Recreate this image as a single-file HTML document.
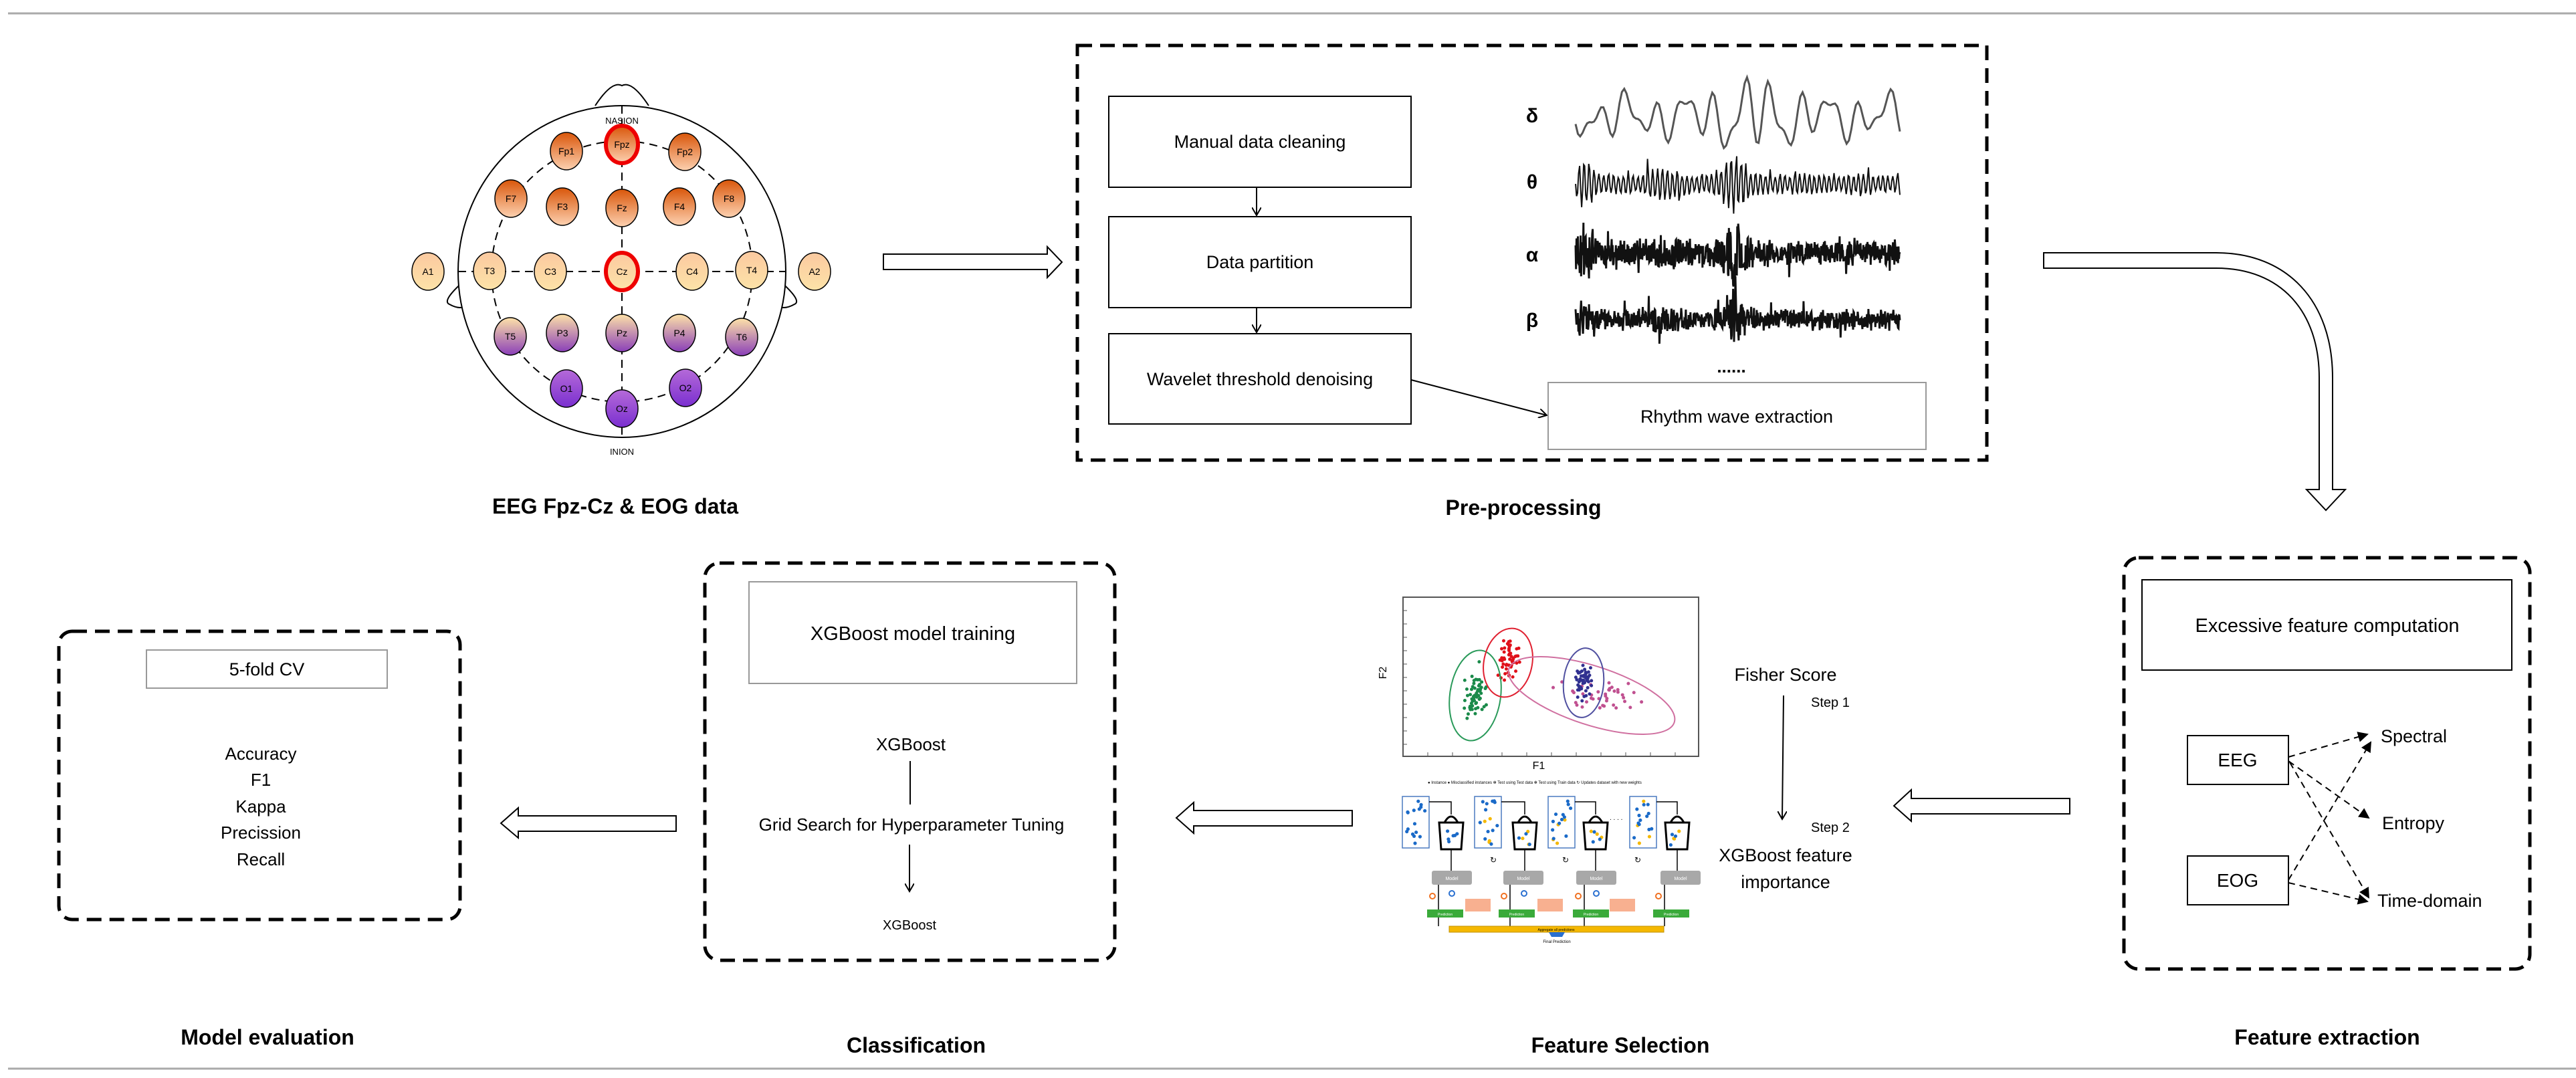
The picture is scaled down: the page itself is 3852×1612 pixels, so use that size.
<!DOCTYPE html>
<html><head><meta charset="utf-8"><style>
html,body{margin:0;padding:0;background:#fff;}
svg{display:block;font-family:"Liberation Sans",sans-serif;}
</style></head><body>
<svg id="s" width="3852" height="1612" viewBox="0 0 3852 1612" xmlns="http://www.w3.org/2000/svg">
<defs>
<linearGradient id="gF" x1="0" y1="0" x2="0" y2="1"><stop offset="0" stop-color="#d9560a"/><stop offset="1" stop-color="#fdd1b0"/></linearGradient>
<linearGradient id="gT" x1="0" y1="0" x2="0" y2="1"><stop offset="0" stop-color="#fbc9a0"/><stop offset="1" stop-color="#fde3a8"/></linearGradient>
<linearGradient id="gP" x1="0" y1="0" x2="0" y2="1"><stop offset="0" stop-color="#fde1a8"/><stop offset="1" stop-color="#8a3fb8"/></linearGradient>
<linearGradient id="gO" x1="0" y1="0" x2="0" y2="1"><stop offset="0" stop-color="#b56ad8"/><stop offset="1" stop-color="#7a2fd0"/></linearGradient>
<marker id="oa" markerWidth="14" markerHeight="14" refX="12" refY="7" orient="auto" markerUnits="userSpaceOnUse"><path d="M0,0 L12,7 L0,14" fill="none" stroke="#000" stroke-width="2"/></marker>
<marker id="fa" markerWidth="16" markerHeight="16" refX="14" refY="8" orient="auto" markerUnits="userSpaceOnUse"><path d="M0,0 L16,8 L0,16 Z" fill="#000"/></marker>
</defs>
<line x1="12" y1="20" x2="3852" y2="20" stroke="#aaa" stroke-width="3"/>
<line x1="12" y1="1598" x2="3852" y2="1598" stroke="#aaa" stroke-width="3"/>

<g id="head">
<path d="M890,158 Q915,120 930,128 Q945,120 970,158" fill="#fff" stroke="#000" stroke-width="2"/>
<path d="M694,420 Q660,450 672,455 Q690,465 700,455" fill="none" stroke="#000" stroke-width="2"/>
<path d="M1166,420 Q1200,450 1188,455 Q1170,465 1160,455" fill="none" stroke="#000" stroke-width="2"/>
<ellipse cx="930" cy="406" rx="245" ry="248" fill="#fff" stroke="#000" stroke-width="2"/>
<circle cx="930" cy="406" r="195" fill="none" stroke="#000" stroke-width="2" stroke-dasharray="12 8"/>
<line x1="930" y1="158" x2="930" y2="653" stroke="#000" stroke-width="2" stroke-dasharray="12 8"/>
<line x1="685" y1="406" x2="1175" y2="406" stroke="#000" stroke-width="2" stroke-dasharray="12 8"/>
<text x="930" y="185" font-size="13" text-anchor="middle">NASION</text>
<text x="930" y="680" font-size="13" text-anchor="middle">INION</text>
<g id="el"></g>
</g>
<text x="920" y="768" font-size="32" font-weight="bold" text-anchor="middle">EEG Fpz-Cz &amp; EOG data</text>

<path d="M1321,380 H1566 V369 L1588,392 L1566,415 V403 H1321 Z" fill="#fff" stroke="#000" stroke-width="2"/>

<rect x="1611" y="68" width="1360" height="620" fill="none" stroke="#000" stroke-width="5" stroke-dasharray="22 12"/>
<rect x="1658" y="144" width="452" height="136" fill="#fff" stroke="#000" stroke-width="2"/>
<rect x="1658" y="324" width="452" height="136" fill="#fff" stroke="#000" stroke-width="2"/>
<rect x="1658" y="499" width="452" height="135" fill="#fff" stroke="#000" stroke-width="2"/>
<g font-size="27" text-anchor="middle">
<text x="1884" y="221">Manual data cleaning</text>
<text x="1884" y="401">Data partition</text>
<text x="1884" y="576">Wavelet threshold denoising</text>
</g>
<line x1="1879" y1="280" x2="1879" y2="322" stroke="#000" stroke-width="2" marker-end="url(#oa)"/>
<line x1="1879" y1="460" x2="1879" y2="497" stroke="#000" stroke-width="2" marker-end="url(#oa)"/>
<line x1="2110" y1="568" x2="2313" y2="621" stroke="#000" stroke-width="2" marker-end="url(#oa)"/>
<rect x="2315" y="572" width="565" height="100" fill="#fff" stroke="#999" stroke-width="2"/>
<text x="2597" y="632" font-size="27" text-anchor="middle">Rhythm wave extraction</text>
<g font-size="30" font-weight="bold" text-anchor="middle">
<text x="2291" y="183">δ</text><text x="2291" y="282">θ</text><text x="2291" y="391">α</text><text x="2291" y="489">β</text>
</g>
<text x="2589" y="557" font-size="26" font-weight="bold" text-anchor="middle">......</text>
<g id="waves"></g>
<text x="2278" y="770" font-size="32" font-weight="bold" text-anchor="middle">Pre-processing</text>

<path d="M3056,378 H3314 C3420,378 3488,450 3488,565 V732 H3507 L3478,763 L3449,732 H3468 V565 C3468,465 3410,401 3314,401 H3056 Z" fill="#fff" stroke="#000" stroke-width="2"/>

<rect x="3176" y="834" width="607" height="615" rx="22" fill="none" stroke="#000" stroke-width="5" stroke-dasharray="22 12"/>
<rect x="3203" y="867" width="553" height="135" fill="#fff" stroke="#000" stroke-width="2"/>
<text x="3480" y="945" font-size="29" text-anchor="middle">Excessive feature computation</text>
<rect x="3271" y="1100" width="151" height="73" fill="#fff" stroke="#000" stroke-width="2"/>
<rect x="3271" y="1280" width="151" height="73" fill="#fff" stroke="#000" stroke-width="2"/>
<g font-size="28" text-anchor="middle"><text x="3346" y="1146">EEG</text><text x="3346" y="1326">EOG</text></g>
<g stroke="#000" stroke-width="2" stroke-dasharray="10 7" fill="none">
<line x1="3422" y1="1132" x2="3540" y2="1098" marker-end="url(#fa)"/>
<line x1="3422" y1="1138" x2="3542" y2="1223" marker-end="url(#fa)"/>
<line x1="3424" y1="1140" x2="3542" y2="1342" marker-end="url(#fa)"/>
<line x1="3422" y1="1316" x2="3545" y2="1110" marker-end="url(#fa)"/>
<line x1="3422" y1="1320" x2="3540" y2="1348" marker-end="url(#fa)"/>
</g>
<g font-size="27"><text x="3560" y="1110">Spectral</text><text x="3562" y="1240">Entropy</text><text x="3555" y="1356">Time-domain</text></g>
<text x="3480" y="1562" font-size="32" font-weight="bold" text-anchor="middle">Feature extraction</text>

<path d="M3095,1194 H2858 V1181 L2832,1205 L2858,1228 V1217 H3095 Z" fill="#fff" stroke="#000" stroke-width="2"/>

<rect x="2098" y="893" width="442" height="238" fill="#fff" stroke="#555" stroke-width="2"/>
<g id="ticks"></g>
<g id="scat"></g>
<g fill="none" stroke-width="2">
<ellipse cx="2206" cy="1040" rx="38" ry="68" stroke="#2a9a5a" transform="rotate(8 2206 1040)"/>
<ellipse cx="2255" cy="991" rx="36" ry="52" stroke="#e02030" transform="rotate(12 2255 991)"/>
<ellipse cx="2380" cy="1040" rx="130" ry="44" stroke="#d070a0" transform="rotate(18 2380 1040)"/>
<ellipse cx="2368" cy="1021" rx="30" ry="52" stroke="#5050a0" transform="rotate(5 2368 1021)"/>
</g>
<text x="2073" y="1006" font-size="16" text-anchor="middle" transform="rotate(-90 2073 1006)">F2</text>
<text x="2301" y="1150" font-size="16" text-anchor="middle">F1</text>
<g id="ens"></g>
<g font-size="27" text-anchor="middle">
<text x="2670" y="1018">Fisher Score</text>
<text x="2670" y="1288">XGBoost feature</text>
<text x="2670" y="1328">importance</text>
</g>
<g font-size="20"><text x="2708" y="1057">Step 1</text><text x="2708" y="1244">Step 2</text></g>
<line x1="2667" y1="1040" x2="2665" y2="1225" stroke="#000" stroke-width="2" marker-end="url(#oa)"/>
<text x="2423" y="1574" font-size="32" font-weight="bold" text-anchor="middle">Feature Selection</text>

<path d="M2022,1212 H1785 V1200 L1759,1223 L1785,1246 V1235 H2022 Z" fill="#fff" stroke="#000" stroke-width="2"/>

<rect x="1054" y="842" width="613" height="594" rx="22" fill="none" stroke="#000" stroke-width="5" stroke-dasharray="22 12"/>
<rect x="1120" y="870" width="490" height="152" fill="#fff" stroke="#999" stroke-width="2"/>
<text x="1365" y="957" font-size="29" text-anchor="middle">XGBoost model training</text>
<text x="1362" y="1122" font-size="26" text-anchor="middle">XGBoost</text>
<line x1="1361" y1="1138" x2="1361" y2="1203" stroke="#000" stroke-width="2"/>
<text x="1363" y="1242" font-size="26" text-anchor="middle">Grid Search for Hyperparameter Tuning</text>
<line x1="1360" y1="1263" x2="1360" y2="1333" stroke="#000" stroke-width="2" marker-end="url(#oa)"/>
<text x="1360" y="1390" font-size="20" text-anchor="middle">XGBoost</text>
<text x="1370" y="1574" font-size="32" font-weight="bold" text-anchor="middle">Classification</text>

<path d="M1011,1220 H775 V1208 L749,1231 L775,1253 V1243 H1011 Z" fill="#fff" stroke="#000" stroke-width="2"/>

<rect x="88" y="944" width="600" height="431" rx="20" fill="none" stroke="#000" stroke-width="5" stroke-dasharray="22 12"/>
<rect x="219" y="972" width="360" height="57" fill="#fff" stroke="#999" stroke-width="2"/>
<text x="399" y="1010" font-size="27" text-anchor="middle">5-fold CV</text>
<g font-size="26" text-anchor="middle">
<text x="390" y="1136">Accuracy</text><text x="390" y="1175">F1</text><text x="390" y="1215">Kappa</text><text x="390" y="1254">Precission</text><text x="390" y="1294">Recall</text>
</g>
<text x="400" y="1562" font-size="32" font-weight="bold" text-anchor="middle">Model evaluation</text>
</svg>
<script>
(function(){
var NS="http://www.w3.org/2000/svg";
function el(p,t,a,txt){var e=document.createElementNS(NS,t);for(var k in a)e.setAttribute(k,a[k]);if(txt!==undefined)e.textContent=txt;p.appendChild(e);return e;}
var seed=7;function r(){seed=(seed*16807)%2147483647;return (seed-1)/2147483646;}
var g=document.getElementById('el');
var E=[["Fpz",930,216,"gF",1],["Fp1",847,226,"gF"],["Fp2",1024,227,"gF"],
["F7",764,297,"gF"],["F3",841,309,"gF"],["Fz",930,311,"gF"],["F4",1016,309,"gF"],["F8",1090,297,"gF"],
["A1",640,406,"gT"],["T3",732,405,"gT"],["C3",823,406,"gT"],["Cz",930,406,"gT",1],["C4",1035,406,"gT"],["T4",1124,404,"gT"],["A2",1218,406,"gT"],
["T5",763,503,"gP"],["P3",841,498,"gP"],["Pz",930,498,"gP"],["P4",1016,498,"gP"],["T6",1109,504,"gP"],
["O1",847,581,"gO"],["Oz",930,611,"gO"],["O2",1025,580,"gO"]];
E.forEach(function(e){
 el(g,'ellipse',{cx:e[1],cy:e[2],rx:24,ry:28,fill:'url(#'+e[3]+')',stroke:e[4]?'#e00':'#000','stroke-width':e[4]?6:1.5});
 el(g,'text',{x:e[1],y:e[2]+5,'font-size':14,'text-anchor':'middle'},e[0]);
});
var w=document.getElementById('waves');
function wave(y0,amp,type,sw){
 var d="",x0=2356,x1=2841,n=type==0?140:(type==1?320:700);
 for(var i=0;i<=n;i++){var x=x0+(x1-x0)*i/n,t=i/n,v;
  var burst=1+1.8*Math.exp(-Math.pow((t-0.49)/0.04,2))+1.4*Math.exp(-Math.pow((t-0.03)/0.03,2))+0.6*Math.exp(-Math.pow((t-0.27)/0.05,2));
  if(type==0){v=Math.sin(t*70)*0.55+Math.sin(t*113+1)*0.35+Math.sin(t*31)*0.3;v*=(0.75+0.6*Math.exp(-Math.pow((t-0.55)/0.12,2)));}
  else if(type==1){v=Math.sin(i*1.3)*(0.25+0.2*r())*burst*(r()<0.04?2:1);}
  else {v=(r()*2-1)*(0.35+0.3*r())*burst*(r()<0.05?2:1);}
  d+=(i?"L":"M")+x.toFixed(1)+","+(y0+v*amp).toFixed(1);}
 el(w,'path',{d:d,fill:'none',stroke:type==0?'#555':'#111','stroke-width':sw});
}
wave(174,52,0,3);wave(275,38,1,2);wave(378,32,2,3);wave(478,26,2,3);
var tk=document.getElementById('ticks');
for(var i=0;i<12;i++){el(tk,'line',{x1:2098+i*37,y1:1131,x2:2098+i*37,y2:1125,stroke:'#555'});el(tk,'line',{x1:2098,y1:893+i*20,x2:2104,y2:893+i*20,stroke:'#555'});}
var s=document.getElementById('scat');
function cl(cx,cy,sx,sy,n,c){for(var i=0;i<n;i++){var a=(r()+r()+r()-1.5)/1.5,b=(r()+r()+r()-1.5)/1.5;el(s,'circle',{cx:cx+a*sx,cy:cy+b*sy,r:2.5,fill:c});}}
cl(2206,1040,22,55,60,'#1a8a4a');cl(2255,985,22,42,55,'#e0101a');cl(2400,1040,90,30,40,'#c05090');cl(2368,1018,18,40,50,'#303090');
var en=document.getElementById('ens');
el(en,'text',{x:2135,y:1172,'font-size':6},"● Instance   ● Misclassified instances   ✻ Test using Test data   ✻ Test using Train data   ↻ Updates dataset with new weights");
var sets=[2097,2205,2315,2437],bags=[2152,2262,2368,2490],mods=[2141,2248,2357,2483],pre=[2134,2241,2352,2472];
for(var k=0;k<4;k++){
 el(en,'rect',{x:sets[k],y:1191,width:40,height:77,fill:'#fff',stroke:'#4a7ac0','stroke-width':1.5});
 for(var j=0;j<16;j++)el(en,'circle',{cx:sets[k]+6+r()*28,cy:1197+r()*66,r:2.6,fill:(k>0&&j<4)?'#f5b800':'#1a6ac8'});
 el(en,'path',{d:'M'+(sets[k]+40)+',1199 H'+(bags[k]+18)+' V1218',fill:'none',stroke:'#000','stroke-width':1.5});
 el(en,'path',{d:'M'+bags[k]+',1230 H'+(bags[k]+36)+' L'+(bags[k]+33)+',1270 H'+(bags[k]+3)+' Z M'+(bags[k]+8)+',1230 Q'+(bags[k]+18)+',1212 '+(bags[k]+28)+',1230',fill:'#fff',stroke:'#000','stroke-width':3});
 for(var j=0;j<6;j++)el(en,'circle',{cx:bags[k]+8+r()*20,cy:1240+r()*24,r:2.6,fill:(k>0&&j<3)?'#f5b800':'#1a6ac8'});
 el(en,'line',{x1:bags[k]+18,y1:1270,x2:bags[k]+18,y2:1302,stroke:'#000','stroke-width':1.5});
 el(en,'rect',{x:mods[k],y:1302,width:60,height:21,rx:3,fill:'#a8a8a8'});
 el(en,'text',{x:mods[k]+30,y:1316,'font-size':7,fill:'#fff','text-anchor':'middle'},"Model");
 el(en,'line',{x1:pre[k]+17,y1:1323,x2:pre[k]+17,y2:1360,stroke:'#000','stroke-width':1.5});
 el(en,'rect',{x:pre[k],y:1360,width:54,height:12,fill:'#3aaa3a'});
 el(en,'text',{x:pre[k]+27,y:1369,'font-size':5,fill:'#fff','text-anchor':'middle'},"Prediction");
 el(en,'line',{x1:pre[k]+17,y1:1372,x2:pre[k]+17,y2:1385,stroke:'#000','stroke-width':1.5});
 el(en,'circle',{cx:pre[k]+8,cy:1340,r:4,fill:'none',stroke:'#f07020','stroke-width':2});
 if(k<3){el(en,'rect',{x:2191+k*108,y:1344,width:38,height:19,fill:'#f8b090'});
  el(en,'circle',{cx:2171+k*108,cy:1336,r:4,fill:'none',stroke:'#2a70d0','stroke-width':2});
  el(en,'text',{x:2183+k*108+50,y:1290,'font-size':12,'text-anchor':'middle'},"↻");}
}
el(en,'text',{x:2437-30,y:1226,'font-size':10},". . . .");
el(en,'rect',{x:2167,y:1385,width:321,height:9,fill:'#f5b800',stroke:'#c09000','stroke-width':1});
el(en,'text',{x:2327,y:1392,'font-size':5,'text-anchor':'middle'},"Aggregate all predictions");
el(en,'path',{d:'M2316,1394 H2340 L2336,1401 H2320 Z',fill:'#2a70d0'});
el(en,'text',{x:2328,y:1410,'font-size':6,'text-anchor':'middle'},"Final Prediction");
})();
</script>
</body></html>
